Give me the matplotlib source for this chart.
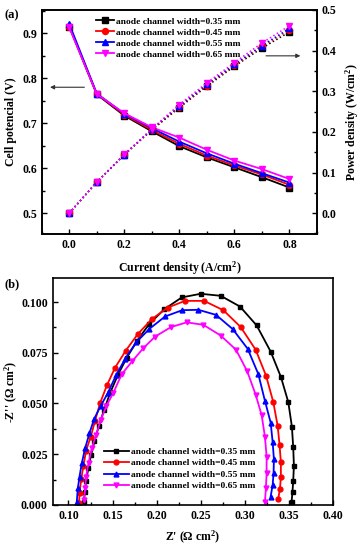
import matplotlib
matplotlib.use('Agg')
import matplotlib.pyplot as plt
from matplotlib.ticker import MultipleLocator, FormatStrFormatter

plt.rcParams['font.family'] = ['Liberation Serif', 'DejaVu Serif']
plt.rcParams['font.weight'] = 'bold'
plt.rcParams['axes.labelweight'] = 'bold'
plt.rcParams['mathtext.fontset'] = 'custom'
plt.rcParams['mathtext.rm'] = 'Liberation Serif:bold'
plt.rcParams['mathtext.bf'] = 'Liberation Serif:bold'
plt.rcParams['mathtext.default'] = 'rm'

# ---- (a) polarization / power curves ----
current = [0.0, 0.1, 0.2, 0.3, 0.4, 0.5, 0.6, 0.7, 0.8]
v35 = [0.915, 0.764, 0.717, 0.682, 0.649, 0.624, 0.602, 0.580, 0.557]
v45 = [0.915, 0.765, 0.719, 0.685, 0.654, 0.628, 0.606, 0.586, 0.563]
v55 = [0.921, 0.766, 0.721, 0.689, 0.659, 0.633, 0.610, 0.589, 0.568]
v65 = [0.913, 0.765, 0.722, 0.691, 0.668, 0.641, 0.617, 0.598, 0.576]
p35 = [0.0, 0.0764, 0.1434, 0.2046, 0.2596, 0.3120, 0.3612, 0.4060, 0.4456]
p45 = [0.0, 0.0765, 0.1438, 0.2055, 0.2616, 0.3140, 0.3636, 0.4102, 0.4504]
p55 = [0.0, 0.0766, 0.1442, 0.2067, 0.2636, 0.3165, 0.3660, 0.4123, 0.4544]
p65 = [0.0, 0.0765, 0.1444, 0.2073, 0.2672, 0.3205, 0.3702, 0.4186, 0.4608]

# ---- (b) Nyquist plots ----
zr35 = [0.1175, 0.1185, 0.1200, 0.1225, 0.1255, 0.1295, 0.1345, 0.1405, 0.1475, 0.1560,
        0.1660, 0.1780, 0.1918, 0.2088, 0.2285, 0.2500, 0.2727, 0.2946, 0.3135, 0.3294,
        0.3411, 0.3494, 0.3535, 0.3550, 0.3558, 0.3550, 0.3542, 0.3531]
zi35 = [0.0015, 0.0065, 0.0120, 0.0180, 0.0245, 0.0315, 0.0390, 0.0470, 0.0555, 0.0640,
        0.0725, 0.0810, 0.0893, 0.0965, 0.1023, 0.1041, 0.1031, 0.0978, 0.0885, 0.0756,
        0.0630, 0.0507, 0.0386, 0.0284, 0.0192, 0.0120, 0.0066, 0.0012]
zr45 = [0.1120, 0.1125, 0.1144, 0.1170, 0.1200, 0.1253, 0.1302, 0.1359, 0.1435, 0.1529,
        0.1650, 0.1786, 0.1945, 0.2127, 0.2322, 0.2538, 0.2757, 0.2954, 0.3124, 0.3241,
        0.3324, 0.3373, 0.3395, 0.3410, 0.3410, 0.3400, 0.3380]
zi45 = [0.0010, 0.0058, 0.0127, 0.0194, 0.0268, 0.0337, 0.0416, 0.0502, 0.0589, 0.0677,
        0.0761, 0.0842, 0.0916, 0.0973, 0.1006, 0.1006, 0.0960, 0.0877, 0.0765, 0.0638,
        0.0507, 0.0391, 0.0296, 0.0210, 0.0140, 0.0080, 0.0030]
zr55 = [0.1094, 0.1106, 0.1125, 0.1151, 0.1189, 0.1238, 0.1291, 0.1365, 0.1446, 0.1541,
        0.1643, 0.1767, 0.1918, 0.2096, 0.2290, 0.2473, 0.2674, 0.2863, 0.3033, 0.3154,
        0.3229, 0.3294, 0.3317, 0.3331, 0.3327, 0.3317, 0.3294]
zi55 = [0.0016, 0.0082, 0.0140, 0.0206, 0.0280, 0.0354, 0.0424, 0.0488, 0.0551, 0.0641,
        0.0720, 0.0801, 0.0868, 0.0929, 0.0960, 0.0962, 0.0937, 0.0867, 0.0770, 0.0645,
        0.0513, 0.0406, 0.0308, 0.0225, 0.0156, 0.0099, 0.0041]
zr65 = [0.1178, 0.1189, 0.1200, 0.1227, 0.1264, 0.1314, 0.1366, 0.1430, 0.1510, 0.1605,
        0.1726, 0.1850, 0.1983, 0.2164, 0.2341, 0.2530, 0.2727, 0.2901, 0.3029, 0.3124,
        0.3191, 0.3229, 0.3248, 0.3248, 0.3240, 0.3229]
zi65 = [0.0025, 0.0082, 0.0140, 0.0206, 0.0280, 0.0345, 0.0419, 0.0488, 0.0554, 0.0645,
        0.0710, 0.0773, 0.0830, 0.0877, 0.0900, 0.0888, 0.0835, 0.0765, 0.0658, 0.0543,
        0.0444, 0.0337, 0.0238, 0.0156, 0.0082, 0.0016]

labels = ['anode channel width=0.35 mm', 'anode channel width=0.45 mm',
          'anode channel width=0.55 mm', 'anode channel width=0.65 mm']
colors = ['black', 'red', 'blue', 'magenta']
markers = ['s', 'o', '^', 'v']

FS = 8.5
LEG_FS = 6.8

fig = plt.figure(figsize=(3.63, 5.5), dpi=100)

# ---------------- panel (a) ----------------
ax = fig.add_axes([0.115, 0.574, 0.758, 0.408])
ax2 = ax.twinx()
for v, c, m, lab in zip([v35, v45, v55, v65], colors, markers, labels):
    ax.plot(current, v, color=c, marker=m, markersize=4.3, lw=1.3, label=lab)
for p, c, m in zip([p35, p45, p55, p65], colors, markers):
    ax2.plot(current, p, color=c, marker=m, markersize=4.3, lw=1.1, ls=':')

ax.set_xlim(-0.1, 0.9)
ax.set_ylim(0.453, 0.952)
ax2.set_ylim(-0.052, 0.5)
ax.xaxis.set_major_locator(MultipleLocator(0.2))
ax.xaxis.set_minor_locator(MultipleLocator(0.1))
ax.yaxis.set_major_locator(MultipleLocator(0.1))
ax.yaxis.set_minor_locator(MultipleLocator(0.05))
ax2.yaxis.set_major_locator(MultipleLocator(0.1))
ax2.yaxis.set_minor_locator(MultipleLocator(0.05))
ax.xaxis.set_major_formatter(FormatStrFormatter('%.1f'))
ax.yaxis.set_major_formatter(FormatStrFormatter('%.1f'))
ax2.yaxis.set_major_formatter(FormatStrFormatter('%.1f'))
ax.tick_params(which='both', direction='in', top=False, right=False, labelsize=FS, width=1.0)
ax.tick_params(which='major', length=3.5)
ax.tick_params(which='minor', length=2)
ax2.tick_params(which='both', direction='in', labelsize=FS, width=1.0)
ax2.tick_params(which='major', length=3.5)
ax2.tick_params(which='minor', length=2)
for a in (ax, ax2):
    for s in a.spines.values():
        s.set_linewidth(1.2)
ax.set_xlabel('Current density (A/cm$^2$)', fontsize=FS, labelpad=6)
ax.set_ylabel('Cell potencial (V)', fontsize=FS)
ax.yaxis.set_label_coords(-0.09, 0.5)
ax2.set_ylabel('Power density (W/cm$^2$)', fontsize=FS, labelpad=5)
ax.legend(loc='upper left', bbox_to_anchor=(0.17, 1.0), frameon=False, fontsize=LEG_FS,
          handlelength=2.0, handletextpad=0.2, labelspacing=0.25, borderaxespad=0.35)
ax.annotate('', xy=(-0.08, 0.78), xytext=(0.065, 0.78),
            arrowprops=dict(arrowstyle='-|>', color='#333333', lw=0.8, mutation_scale=6))
ax2.annotate('', xy=(0.85, 0.387), xytext=(0.705, 0.387),
             arrowprops=dict(arrowstyle='-|>', color='#333333', lw=0.8, mutation_scale=6))
fig.text(0.012, 0.972, '(a)', fontsize=9, fontweight='bold', va='center')

# ---------------- panel (b) ----------------
bx = fig.add_axes([0.145, 0.082, 0.772, 0.413])
for zr, zi, c, m, lab in zip([zr35, zr45, zr55, zr65], [zi35, zi45, zi55, zi65],
                             colors, markers, labels):
    bx.plot(zr, zi, color=c, marker=m, markersize=3.5, lw=1.3, label=lab)
bx.set_xlim(0.082, 0.40)
bx.set_ylim(0.0, 0.112)
bx.xaxis.set_major_locator(MultipleLocator(0.05))
bx.xaxis.set_minor_locator(MultipleLocator(0.025))
bx.yaxis.set_major_locator(MultipleLocator(0.025))
bx.yaxis.set_minor_locator(MultipleLocator(0.0125))
bx.xaxis.set_major_formatter(FormatStrFormatter('%.2f'))
bx.yaxis.set_major_formatter(FormatStrFormatter('%.3f'))
bx.tick_params(which='both', direction='in', top=False, right=False, labelsize=FS, width=1.0)
bx.tick_params(which='major', length=3.5)
bx.tick_params(which='minor', length=2)
for s in bx.spines.values():
    s.set_linewidth(1.2)
bx.set_xlabel("Z' (\u03a9 cm$^2$)", fontsize=FS, labelpad=5)
bx.set_ylabel("-Z'' (\u03a9 cm$^2$)", fontsize=FS)
bx.yaxis.set_label_coords(-0.115, 0.5)
bx.legend(loc='lower left', bbox_to_anchor=(0.16, 0.035), frameon=False, fontsize=LEG_FS,
          handlelength=2.6, handletextpad=0.2, labelspacing=0.3, borderaxespad=0.3)
fig.text(0.012, 0.484, '(b)', fontsize=9, fontweight='bold', va='center')

fig.savefig('out.png', dpi=100)
